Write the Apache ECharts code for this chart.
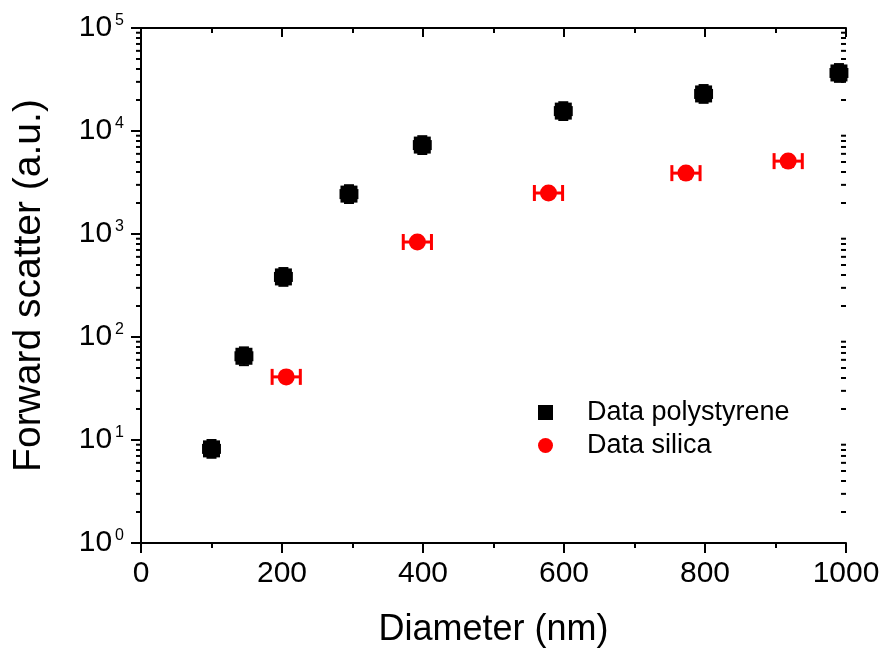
<!DOCTYPE html>
<html>
<head>
<meta charset="utf-8">
<script src="https://cdn.jsdelivr.net/npm/echarts@6/dist/echarts.min.js"></script>
<style>html,body{margin:0;padding:0;background:#fff}#c{width:884px;height:651px}</style>
</head>
<body>
<div id="c"></div>
<script>
// Data
var psDiameter = [100, 146, 202, 295, 399, 599, 798, 990];
var psScatter  = [8.2, 65, 383, 2440, 7300, 15600, 22900, 36600];
var psXErr     = [12, 12, 12, 12, 12, 12, 12, 12];
var psYErrFactor = [1.22, 1.22, 1.22, 1.22, 1.22, 1.22, 1.22, 1.22];

var siDiameter = [206, 392, 578, 773, 918];
var siScatter  = [41, 836, 2500, 3900, 5100];
var siXErr     = [20, 20, 20, 20, 20];

var xTicks = [0, 200, 400, 600, 800, 1000];
var yTickExponents = [0, 1, 2, 3, 4, 5];
var seriesNames = ['Data polystyrene', 'Data silica'];

// minor ticks of log axis: 2..9 x 10^k
var yMinor = [];
for (var k = 0; k < 5; k++) for (var m = 2; m <= 9; m++) yMinor.push(m * Math.pow(10, k));

var chart = echarts.init(document.getElementById('c'));
var FONT = '"Liberation Sans", Arial, sans-serif';

function zip2(a, b) { return a.map(function (v, i) { return [v, b[i]]; }); }

var psErrData = psDiameter.map(function (d, i) { return [d, psScatter[i], psXErr[i], psYErrFactor[i]]; });
var siErrData = siDiameter.map(function (d, i) { return [d, siScatter[i], siXErr[i], 1]; });

function errRender(color, capHalf, lw) {
  return function (params, api) {
    var x = api.value(0), y = api.value(1), xe = api.value(2), yf = api.value(3);
    var c = api.coord([x, y]);
    var l = api.coord([x - xe, y]), r = api.coord([x + xe, y]);
    var children = [];
    var st = { stroke: color, lineWidth: lw };
    children.push({ type: 'line', shape: { x1: l[0], y1: c[1], x2: r[0], y2: c[1] }, style: st });
    children.push({ type: 'line', shape: { x1: l[0], y1: c[1] - capHalf, x2: l[0], y2: c[1] + capHalf }, style: st });
    children.push({ type: 'line', shape: { x1: r[0], y1: c[1] - capHalf, x2: r[0], y2: c[1] + capHalf }, style: st });
    if (yf > 1) {
      var t = api.coord([x, y * yf]), b = api.coord([x, y / yf]);
      children.push({ type: 'line', shape: { x1: c[0], y1: t[1], x2: c[0], y2: b[1] }, style: st });
      children.push({ type: 'line', shape: { x1: c[0] - capHalf, y1: t[1], x2: c[0] + capHalf, y2: t[1] }, style: st });
      children.push({ type: 'line', shape: { x1: c[0] - capHalf, y1: b[1], x2: c[0] + capHalf, y2: b[1] }, style: st });
    }
    return { type: 'group', children: children };
  };
}

function minorYRender(params, api) {
  var v = api.value(1);
  var p = api.coord([0, v]);
  var q = api.coord([1000, v]);
  var st = { stroke: '#000', lineWidth: 2 };
  return { type: 'group', children: [
    { type: 'line', shape: { x1: p[0] - 5, y1: p[1], x2: p[0] + 1, y2: p[1] }, style: st },
    { type: 'line', shape: { x1: q[0] - 5, y1: q[1], x2: q[0], y2: q[1] }, style: st }
  ] };
}

var option = {
  animation: false,
  backgroundColor: '#fff',
  grid: { left: 141, right: 38, top: 28, bottom: 108, containLabel: false, outerBoundsMode: 'none' },
  legend: {
    left: 533, top: 394, orient: 'vertical', itemGap: 6, itemWidth: 15, itemHeight: 15,
    textStyle: { fontFamily: FONT, fontSize: 27, color: '#000', padding: [0, 0, 0, 29] },
    data: [{ name: seriesNames[0], icon: 'rect' }, { name: seriesNames[1], icon: 'circle' }]
  },
  xAxis: [{
    type: 'value', min: 0, max: 1000, interval: 200, position: 'bottom',
    name: 'Diameter (nm)', nameLocation: 'middle', nameGap: 69,
    nameTextStyle: { fontFamily: FONT, fontSize: 36, color: '#000' },
    axisLine: { show: true, lineStyle: { color: '#000', width: 2 } },
    axisTick: { show: true, inside: false, length: 10, lineStyle: { color: '#000', width: 2 } },
    minorTick: { show: true, splitNumber: 2, length: 5, lineStyle: { color: '#000', width: 2 } },
    axisLabel: { fontFamily: FONT, fontSize: 30, color: '#000', margin: 16,
      formatter: function (v) { return xTicks.indexOf(v) >= 0 ? String(v) : ''; } },
    splitLine: { show: false }
  }, {
    type: 'value', min: 0, max: 1000, interval: 200, position: 'top',
    axisLine: { show: true, onZero: false, lineStyle: { color: '#000', width: 2 } },
    axisTick: { show: true, inside: true, length: 9, lineStyle: { color: '#000', width: 2 } },
    minorTick: { show: true, splitNumber: 2, length: 5, lineStyle: { color: '#000', width: 2 } },
    axisLabel: { show: false }, splitLine: { show: false }
  }],
  yAxis: [{
    type: 'log', logBase: 10, min: 1, max: 100000, position: 'left',
    name: 'Forward scatter (a.u.)', nameLocation: 'middle', nameGap: 92,
    nameTextStyle: { fontFamily: FONT, fontSize: 39, color: '#000' },
    axisLine: { show: true, lineStyle: { color: '#000', width: 2 } },
    axisTick: { show: true, inside: false, length: 9, lineStyle: { color: '#000', width: 2 } },
    axisLabel: {
      margin: 17,
      formatter: function (v) {
        var e = Math.round(Math.log10(v));
        return yTickExponents.indexOf(e) >= 0 ? '{b|10}{s|' + e + '}' : '';
      },
      rich: {
        b: { fontFamily: FONT, fontSize: 30, lineHeight: 30, color: '#000', verticalAlign: 'middle' },
        s: { fontFamily: FONT, fontSize: 16, lineHeight: 16, color: '#000', verticalAlign: 'top', padding: [0, 0, 14, 3] }
      }
    },
    splitLine: { show: false }
  }, {
    type: 'log', logBase: 10, min: 1, max: 100000, position: 'right',
    axisLine: { show: true, lineStyle: { color: '#000', width: 2 } },
    axisTick: { show: true, inside: true, length: 10, lineStyle: { color: '#000', width: 2 } },
    axisLabel: { show: false }, splitLine: { show: false }
  }],
  series: [
    { type: 'custom', name: 'minorY', silent: true, clip: false, xAxisIndex: 0, yAxisIndex: 0,
      data: yMinor.map(function (v) { return [500, v]; }), renderItem: minorYRender,
      encode: { x: 0, y: 1 }, z: 10 },
    { type: 'custom', name: 'psErr', silent: true, xAxisIndex: 0, yAxisIndex: 0, clip: false,
      data: psErrData, renderItem: errRender('#000', 5, 2), encode: { x: 0, y: 1 }, z: 3 },
    { type: 'custom', name: 'siErr', silent: true, xAxisIndex: 0, yAxisIndex: 0, clip: false,
      data: siErrData, renderItem: errRender('#ff0000', 8, 3), encode: { x: 0, y: 1 }, z: 3 },
    { type: 'scatter', name: seriesNames[0], xAxisIndex: 0, yAxisIndex: 0, symbol: 'rect', symbolSize: 17,
      itemStyle: { color: '#000', opacity: 1 }, data: zip2(psDiameter, psScatter), z: 4 },
    { type: 'scatter', name: seriesNames[1], xAxisIndex: 0, yAxisIndex: 0, symbol: 'circle', symbolSize: 17,
      itemStyle: { color: '#ff0000', opacity: 1 }, data: zip2(siDiameter, siScatter), z: 4 }
  ]
};
chart.setOption(option);
</script>
</body>
</html>
